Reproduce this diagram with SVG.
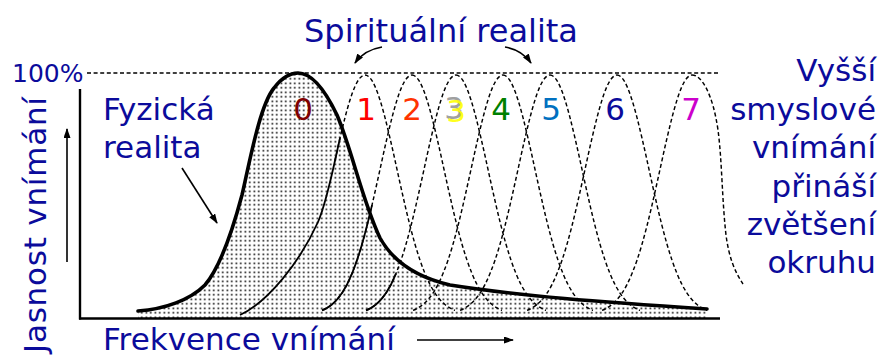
<svg xmlns="http://www.w3.org/2000/svg" xmlns:xlink="http://www.w3.org/1999/xlink" width="882" height="356" viewBox="0 0 882 356">
<style>
  .lbl { font-family: "DejaVu Sans", Verdana, sans-serif; fill: #0b0b9b; }
  .num { font-family: "DejaVu Sans", Verdana, sans-serif; font-size: 31px; text-anchor: middle; }
  .dash { fill: none; stroke: #000; stroke-width: 1.45; stroke-dasharray: 4 2.6; }
  .thin { fill: none; stroke: #000; stroke-width: 1.8; }
  .thick { fill: none; stroke: #000; stroke-width: 3.6; stroke-linecap: round; }
  .axis { fill: none; stroke: #000; stroke-width: 2.4; }
  .arr { fill: none; stroke: #000; stroke-width: 1.6; marker-end: url(#ah); }
</style>
<defs>
  <pattern id="dots" width="4.5" height="4.5" patternUnits="userSpaceOnUse">
    <rect x="1.5" y="1.5" width="1.6" height="1.6" fill="#000"/>
  </pattern>
  <marker id="ah" markerWidth="10" markerHeight="7" refX="9" refY="3.5" orient="auto" markerUnits="userSpaceOnUse">
    <path d="M0,0 L10,3.5 L0,7 Z" fill="#000"/>
  </marker>
  <path id="bellL" d="M-90,235.4 C-86.7,234.1 -83.3,232.2 -80,229.5 C-76.7,226.8 -73.3,223.1 -70,218.1 C-66.7,213.1 -63.3,206.7 -60,198.6 C-56.7,190.5 -53.3,180.7 -50,169.2 C-46.7,157.7 -43.3,144.4 -40,130.1 C-36.7,115.8 -33.3,100.4 -30,85.3 C-26.7,70.2 -23.3,55.5 -20,42.6 C-16.7,29.8 -13.3,18.8 -10,11.4 C-6.7,4 -3.3,0 0,0"/>
  <path id="bellTopL" d="M-30,85.3 C-26.7,70.2 -23.3,55.5 -20,42.6 C-16.7,29.8 -13.3,18.8 -10,11.4 C-6.7,4 -3.3,0 0,0"/>
  <path id="bellR" d="M0,0 C3.3,0 6.7,4 10,11.4 C13.3,18.8 16.7,29.8 20,42.6 C23.3,55.5 26.7,70.2 30,85.3 C33.3,100.4 36.7,115.8 40,130.1 C43.3,144.4 46.7,157.7 50,169.2 C53.3,180.7 56.7,190.5 60,198.6 C63.3,206.7 66.7,213.1 70,218.1 C73.3,223.1 76.7,226.8 80,229.5 C83.3,232.2 86.7,234.1 90,235.4"/>
</defs>

<rect width="882" height="356" fill="#fff"/>

<g id="shading">
  <path d="M138,311 C165,309 190,300 205,285 C222,265 234,225 242,195 C250,160 260,105 274,88 C283,76 291,73 298,73 C312,73 325,90 337,115 C352,150 362,200 380,238 C395,265 420,278 450,285 C520,296 600,302 707,309 L707,318 L138,318 Z" fill="url(#dots)"/>
</g>

<g id="axes">
  <line x1="80" y1="89" x2="80" y2="319.5" class="axis"/>
  <line x1="79" y1="318.5" x2="720" y2="318.5" class="axis" stroke-width="2.6"/>
  <line x1="87" y1="73" x2="720" y2="73" class="dash" stroke-dasharray="5.5 3.5"/>
</g>

<g id="spiritual-curves">
  <g id="curve1">
    <use xlink:href="#bellTopL" href="#bellTopL" x="365" y="75" class="dash"/>
    <use xlink:href="#bellR" href="#bellR" x="365" y="75" class="dash"/>
    <path d="M240,315 C268,302 300,262 318,222 C327,202 335,159.7 340,138.1" class="thin"/>
  </g>
  <g id="curve2">
    <use xlink:href="#bellL" href="#bellL" x="412" y="75" class="dash"/>
    <use xlink:href="#bellR" href="#bellR" x="412" y="75" class="dash"/>
    <path d="M322,310.4 C325.3,309.1 328.7,307.2 332,304.5 C335.3,301.8 338.7,298.1 342,293.1 C345.3,288.1 348.7,281.7 352,273.6 C355.3,265.5 358.7,255.7 362,244.2 C365.3,232.7 368.7,219.4 372,205.1" class="thin"/>
  </g>
  <g id="curve3">
    <use xlink:href="#bellL" href="#bellL" x="456" y="75" class="dash"/>
    <use xlink:href="#bellR" href="#bellR" x="456" y="75" class="dash"/>
    <path d="M366,310.4 C369.3,309.1 372.7,307.2 376,304.5 C379.3,301.8 382.7,298.1 386,293.1 C389.3,288.1 392.7,281.7 396,273.6" class="thin"/>
  </g>
  <g id="curve4">
    <use xlink:href="#bellL" href="#bellL" x="503" y="75" class="dash"/>
    <use xlink:href="#bellR" href="#bellR" x="503" y="75" class="dash"/>
  </g>
  <g id="curve5">
    <use xlink:href="#bellL" href="#bellL" x="550" y="75" class="dash"/>
    <use xlink:href="#bellR" href="#bellR" x="550" y="75" class="dash"/>
  </g>
  <g id="curve6">
    <use xlink:href="#bellL" href="#bellL" x="617" y="75" class="dash"/>
    <use xlink:href="#bellR" href="#bellR" x="617" y="75" class="dash"/>
  </g>
  <g id="curve7">
    <use xlink:href="#bellL" href="#bellL" x="692" y="75" class="dash"/>
    <path d="M692,75 C702,75 713,95 718,130 C722,160 722,200 726,235 C729,258 735,272 743,284" class="dash"/>
  </g>
</g>

<g id="physical-curve">
  <path d="M138,311 C165,309 190,300 205,285 C222,265 234,225 242,195 C250,160 260,105 274,88 C283,76 291,73 298,73 C312,73 325,90 337,115 C352,150 362,200 380,238 C395,265 420,278 450,285 C520,296 600,302 707,309" class="thick"/>
</g>

<g id="connectors">
  <line x1="67" y1="262" x2="67" y2="129" class="arr"/>
  <line x1="182" y1="168" x2="217" y2="223" class="arr"/>
  <line x1="417" y1="340" x2="513" y2="340" class="arr"/>
  <path d="M382,47 Q364,50 355,63" class="arr"/>
  <path d="M505,47 Q522,50 531,63" class="arr"/>
</g>

<g id="label-spiritual"><text x="441" y="42" class="lbl" font-size="32" text-anchor="middle">Spirituální realita</text></g>
<g id="label-100"><text x="12" y="82" class="lbl" font-size="25">100%</text></g>
<g id="label-physical">
  <text x="103" y="120" class="lbl" font-size="31">Fyzická</text>
  <text x="103" y="158" class="lbl" font-size="31">realita</text>
</g>
<g id="label-yaxis"><text transform="translate(46,97) rotate(-90)" class="lbl" font-size="31" text-anchor="end" textLength="256" lengthAdjust="spacing">Jasnost vnímání</text></g>
<g id="label-xaxis"><text x="103" y="350" class="lbl" font-size="31">Frekvence vnímání</text></g>
<g id="label-higher" class="lbl" font-size="31" text-anchor="end">
  <text x="876" y="81">Vyšší</text>
  <text x="876" y="120">smyslové</text>
  <text x="876" y="158">vnímání</text>
  <text x="876" y="197">přináší</text>
  <text x="876" y="235">zvětšení</text>
  <text x="876" y="273">okruhu</text>
</g>

<g id="numbers">
  <text x="303" y="120" class="num" fill="#800000">0</text>
  <text x="366" y="120" class="num" fill="#ff0000">1</text>
  <text x="412" y="120" class="num" fill="#ff3300">2</text>
  <text x="454" y="119" class="num" fill="#a0a0a0">3</text>
  <text x="456" y="121.5" class="num" fill="#ffff00" fill-opacity="0.9">3</text>
  <text x="501" y="120" class="num" fill="#008000">4</text>
  <text x="551" y="120" class="num" fill="#0070c0">5</text>
  <text x="615" y="120" class="num" fill="#0b0b9b">6</text>
  <text x="691" y="120" class="num" fill="#cc00cc">7</text>
</g>
</svg>
